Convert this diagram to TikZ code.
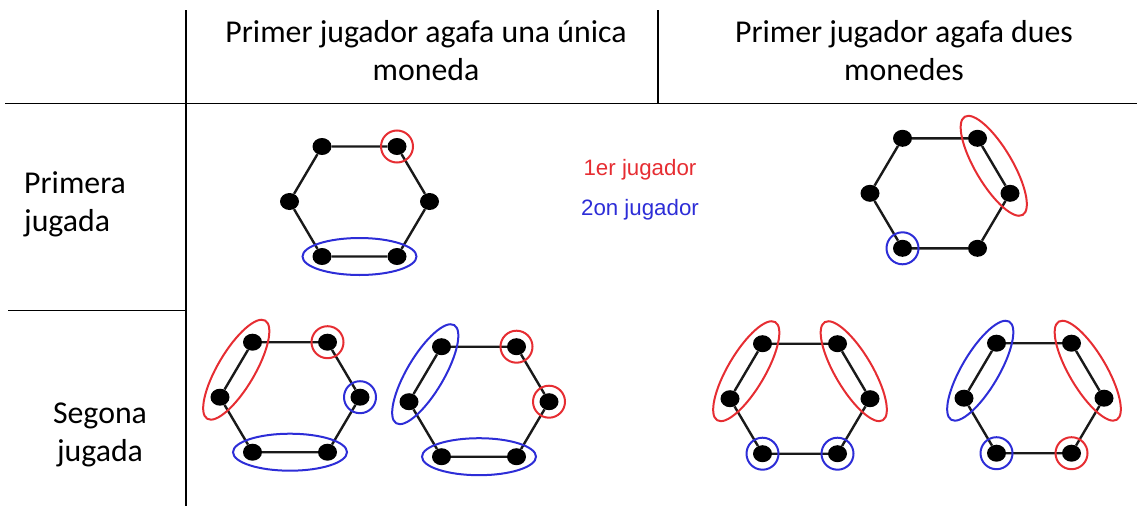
\documentclass[tikz,border=0pt]{standalone}
\usepackage{fontspec}
\setmainfont{Carlito}
\newfontfamily\legendfont{Liberation Sans}
\usetikzlibrary{shapes.geometric,calc}
\definecolor{mred}{RGB}{230,45,50}
\definecolor{mblue}{RGB}{45,45,215}
\tikzset{
  rule/.style={line width=1.8pt, black},
  coin/.style={ellipse, fill=black, minimum width=19pt, minimum height=17pt, inner sep=0pt},
  hexedge/.style={line width=2.4pt, black!90},
  ring/.style={draw, line width=2pt, circle, minimum size=32pt, inner sep=0pt},
  pairring/.style={draw, line width=2pt, ellipse, minimum width=114pt, minimum height=37pt, inner sep=0pt},
  celltext/.style={font=\fontsize{31.8}{38}\selectfont, inner sep=0pt},
  legend/.style={font=\legendfont\fontsize{22.3}{26}\selectfont, inner sep=0pt, anchor=base},
}
\newcommand\hexagon[3]{%
  \node[coin] (#1tl) at ({#2-37.5},{#3-55}) {};
  \node[coin] (#1tr) at ({#2+37.5},{#3-55}) {};
  \node[coin] (#1r)  at ({#2+70},{#3}) {};
  \node[coin] (#1br) at ({#2+37.5},{#3+55}) {};
  \node[coin] (#1bl) at ({#2-37.5},{#3+55}) {};
  \node[coin] (#1l)  at ({#2-70},{#3}) {};
  \draw[hexedge] (#1tl) -- (#1tr) -- (#1r) -- (#1br) -- (#1bl) -- (#1l) -- (#1tl);
}
\newcommand\pairmark[4]{%
  \path let \p1=($(#4)-(#3)$), \n1={atan2(\y1,\x1)} in
    node[pairring, draw=#2, rotate=\n1] (#1) at ($(#3)!0.5!(#4)$) {};
}
\newcommand\singlemark[3]{%
  \node[ring, draw=#2] (#1) at (#3) {};
}
\begin{document}
\begin{tikzpicture}[x=1pt,y=-1pt]
\useasboundingbox (0,0) rectangle (1137,506);
% table rules
\coordinate (v1t) at (186,10);
\coordinate (v1b) at (186,506);
\coordinate (v2t) at (658,10);
\coordinate (v2b) at (658,103.5);
\coordinate (h1l) at (5,103.5);
\coordinate (h1r) at (1137,103.5);
\coordinate (h2l) at (8,310.5);
\coordinate (h2r) at (186,310.5);
\draw[rule] (v1t) -- (v1b);
\draw[rule] (v2t) -- (v2b);
\draw[rule] (h1l) -- (h1r);
\draw[rule] (h2l) -- (h2r);
% headers
\node[celltext, align=center] (hdrA) at (426,51) {Primer jugador agafa una única\\moneda};
\node[celltext, align=center] (hdrB) at (904,51) {Primer jugador agafa dues\\monedes};
\node[celltext, align=left, anchor=west] (rowA) at (24,204) {Primera\\jugada};
\node[celltext, align=center] (rowB) at (100,435) {Segona\\jugada};
% legend
\node[legend, text=mred] (leg1) at (640,175) {1er jugador};
\node[legend, text=mblue] (leg2) at (640,215) {2on jugador};
% hexagon 1
\hexagon{a}{359.5}{201.5}
\singlemark{am1}{mred}{atr}
\pairmark{am2}{mblue}{abl}{abr}
% hexagon 2
\hexagon{b}{940}{193.3}
\pairmark{bm1}{mred}{btr}{br}
\singlemark{bm2}{mblue}{bbl}
% hexagon 3
\hexagon{c}{290}{397.2}
\pairmark{cm1}{mred}{ctl}{cl}
\singlemark{cm2}{mred}{ctr}
\singlemark{cm3}{mblue}{cr}
\pairmark{cm4}{mblue}{cbl}{cbr}
% hexagon 4
\hexagon{d}{479}{401.7}
\pairmark{dm1}{mblue}{dtl}{dl}
\singlemark{dm2}{mred}{dtr}
\singlemark{dm3}{mred}{dr}
\pairmark{dm4}{mblue}{dbl}{dbr}
% hexagon 5
\hexagon{e}{800}{398.7}
\pairmark{em1}{mred}{etl}{el}
\pairmark{em2}{mred}{etr}{er}
\singlemark{em3}{mblue}{ebl}
\singlemark{em4}{mblue}{ebr}
% hexagon 6
\hexagon{f}{1034}{398.2}
\pairmark{fm1}{mblue}{ftl}{fl}
\pairmark{fm2}{mred}{ftr}{fr}
\singlemark{fm3}{mblue}{fbl}
\singlemark{fm4}{mred}{fbr}
\end{tikzpicture}
\end{document}
